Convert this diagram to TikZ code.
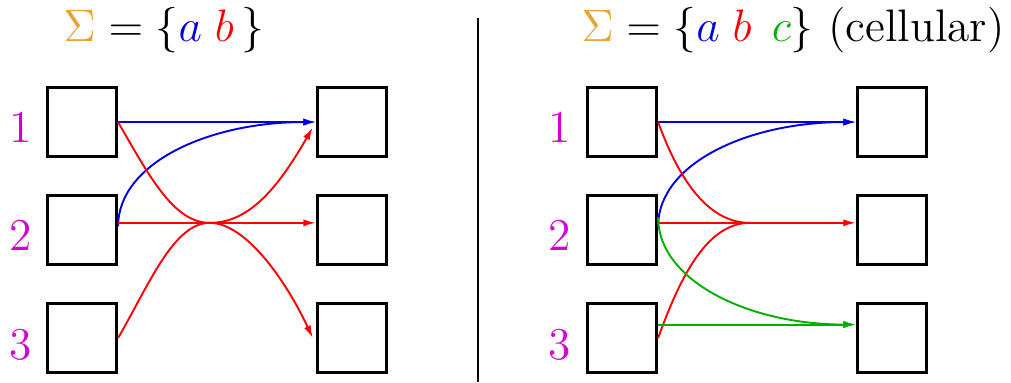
\documentclass[tikz,border=0pt]{standalone}
\usepackage{amsmath,amssymb}
\usepackage{tikz}
\usetikzlibrary{arrows.meta,calc}
\definecolor{naranja}{RGB}{233,163,47}
\definecolor{morado}{RGB}{212,0,212}
\definecolor{azul}{RGB}{0,0,225}
\definecolor{rojo}{RGB}{255,0,0}
\definecolor{verde}{RGB}{0,175,0}
\tikzset{
  celda/.style={draw=black, line width=0.9pt, minimum size=7.7mm, inner sep=0pt},
  num/.style={text=morado, inner sep=0pt},
  tit/.style={anchor=base, inner sep=0pt},
  fa/.style={-{Latex[length=1.4mm,width=0.8mm]}, semithick, azul},
  fb/.style={-{Latex[length=1.4mm,width=0.8mm]}, semithick, rojo},
  fc/.style={-{Latex[length=1.4mm,width=0.8mm]}, semithick, verde},
  lb/.style={semithick, rojo},
}

\begin{document}
\begin{tikzpicture}[x=1mm,y=1mm,font=\Large]
  \useasboundingbox (-9.11,-4.89) rectangle (103.22,37.56);
  % non-cellular alphabet
  \node[tit] (t1) at (9.1,33.0) {$\textcolor{naranja}{\Sigma} = \{\textcolor{azul}{a}\;\textcolor{rojo}{b}\,\}$};
  \node[celda] (p1) at (0,24) {}; \node[celda] (q1) at (30,24) {};
  \node[celda] (p2) at (0,12) {}; \node[celda] (q2) at (30,12) {};
  \node[celda] (p3) at (0,0) {};  \node[celda] (q3) at (30,0) {};
  \node[num] (n1) at (-6.8,23.4) {1};
  \node[num] (n2) at (-6.8,11.4) {2};
  \node[num] (n3) at (-6.8,-0.7) {3};
  \coordinate (m) at (14.2,12.8);
  \draw[fa] (p1.east) -- (q1.west);
  \draw[fa] ([yshift=0.4mm]p2.east) .. controls +(0,7) and +(-12,0) .. (q1.west);
  \draw[fb] ([yshift=0.8mm]p2.east) -- ([yshift=0.8mm]q2.west);
  \draw[fb] (p1.east) .. controls +(-60:7) and +(-4,0) .. (m)
    .. controls +(4,0) and +(115:7) .. ([xshift=-0.35mm]q3.west);
  \draw[fb] (p3.east) .. controls +(60:7) and +(-4,0) .. (m)
    .. controls +(4.5,0) and +(-120:7.5) .. ([xshift=-0.35mm,yshift=-0.6mm]q1.west);
  % separator
  \coordinate (s1) at (44,35.56); \coordinate (s2) at (44,-4.9);
  \draw[line width=0.8pt] (s1) -- (s2);
  % cellular alphabet
  \node[tit] (t2) at (79,33.0) {$\textcolor{naranja}{\Sigma} = \{\textcolor{azul}{a}\;\textcolor{rojo}{b}\;\,\textcolor{verde}{c}\}$ (cellular)};
  \node[celda] (u1) at (60,24) {}; \node[celda] (v1) at (90,24) {};
  \node[celda] (u2) at (60,12) {}; \node[celda] (v2) at (90,12) {};
  \node[celda] (u3) at (60,0) {};  \node[celda] (v3) at (90,0) {};
  \node[num] (k1) at (53.1,23.4) {1};
  \node[num] (k2) at (53.1,11.4) {2};
  \node[num] (k3) at (53.1,-0.7) {3};
  \coordinate (w) at (74.2,12.8);
  \draw[fa] (u1.east) -- (v1.west);
  \draw[fa] ([yshift=0.4mm]u2.east) .. controls +(0,7) and +(-12,0) .. (v1.west);
  \draw[lb] (u1.east) .. controls +(-70:6) and +(-5,0) .. (w);
  \draw[lb] (u3.east) .. controls +(70:6.5) and +(-5,0) .. (w);
  \draw[fb] ([yshift=0.8mm]u2.east) -- ([yshift=0.8mm]v2.west);
  \draw[fc] ([yshift=1.4mm]u2.east) .. controls +(0,-7) and +(-12,0) .. ([yshift=1.5mm]v3.west);
  \draw[fc] ([yshift=1.5mm]u3.east) -- ([yshift=1.5mm]v3.west);
\end{tikzpicture}
\end{document}
